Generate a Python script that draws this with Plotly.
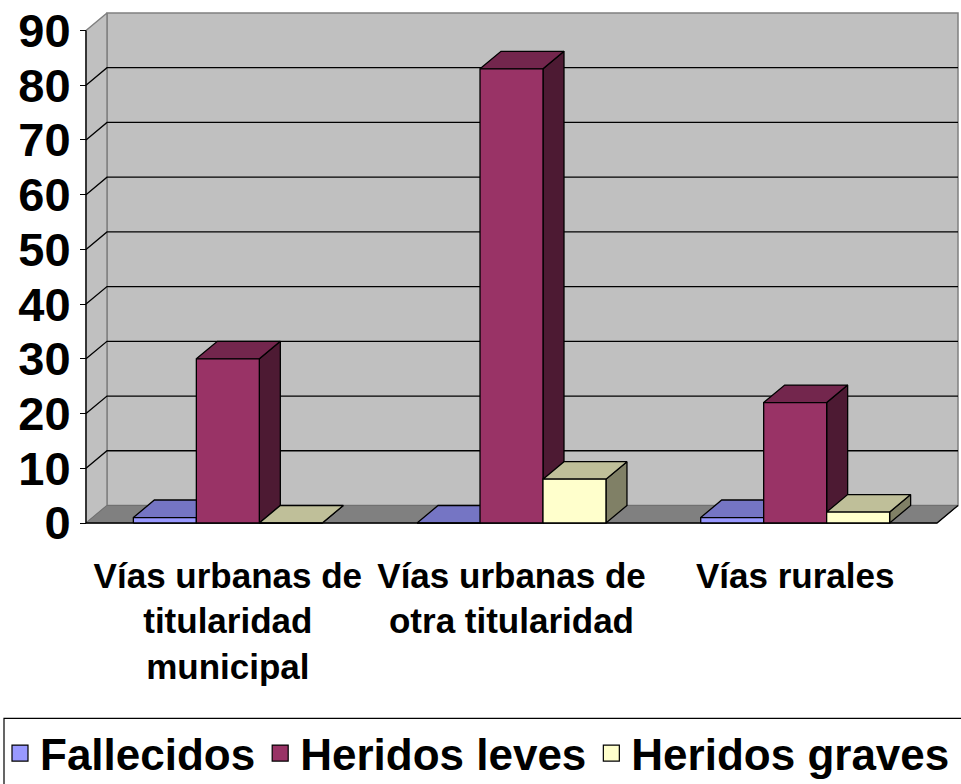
import plotly.graph_objects as go

# ---------------- data ----------------
categories = ["Vías urbanas de<br>titularidad<br>municipal",
              "Vías urbanas de<br>otra titularidad",
              "Vías rurales"]
series_names = ["Fallecidos", "Heridos leves", "Heridos graves"]
fallecidos = [1, 0, 1]
heridos_leves = [30, 83, 22]
heridos_graves = [0, 8, 2]
y_tick_values = [0, 10, 20, 30, 40, 50, 60, 70, 80, 90]

series_values = [fallecidos, heridos_leves, heridos_graves]
front_colors = ["#9999FF", "#993366", "#FFFFCC"]
top_colors = ["#7575C4", "#73264D", "#BFBF99"]
side_colors = ["#4D4D80", "#4D1A33", "#808066"]

# ---------------- geometry (pixels of the frame) ----------------
W, H = 961, 784
FRONT_LEFT, BACK_RIGHT = 86, 958
BASE_Y, TOP_Y = 522.7, 13
DX_PX, DY_PX = 21, 17.5
PAD = 3
Y_MAX = 90
BAR_W = 0.222

n = len(categories)
inner_w = BACK_RIGHT - FRONT_LEFT
inner_h = BASE_Y - TOP_Y
dx = DX_PX * n / (inner_w - DX_PX)
dy = DY_PX * Y_MAX / (inner_h - DY_PX)
ux = (n + dx) / inner_w
uy = (Y_MAX + dy) / inner_h
x_lo, x_front_hi = -0.5, n - 0.5
x_hi = x_front_hi + dx
xr = [x_lo - PAD * ux, x_hi + PAD * ux]
yr = [-PAD * uy, Y_MAX + dy + PAD * uy]
left_px, right_px = FRONT_LEFT - PAD, BACK_RIGHT + PAD
top_px, bot_px = TOP_Y - PAD, BASE_Y + PAD


def px_x(p):
    return (p - left_px) / (right_px - left_px)


def px_y(p):
    return (bot_px - p) / (bot_px - top_px)


fig = go.Figure()


def poly(xs, ys, fill, line_color, width=1.0):
    fig.add_trace(go.Scatter(x=xs, y=ys, mode="lines", fill="toself",
                             fillcolor=fill,
                             line=dict(color=line_color, width=width),
                             hoverinfo="skip", showlegend=False))


def lines(xs, ys, color, width=1.0):
    fig.add_trace(go.Scatter(x=xs, y=ys, mode="lines",
                             line=dict(color=color, width=width),
                             hoverinfo="skip", showlegend=False))


# walls and floor
poly([x_lo + dx, x_hi, x_hi, x_lo + dx, x_lo + dx],
     [dy, dy, Y_MAX + dy, Y_MAX + dy, dy], "#C0C0C0", "#808080", 1.5)
poly([x_lo, x_lo + dx, x_lo + dx, x_lo, x_lo],
     [0, dy, Y_MAX + dy, Y_MAX, 0], "#C0C0C0", "#808080", 1.5)
poly([x_lo, x_front_hi, x_hi, x_lo + dx, x_lo],
     [0, 0, dy, dy, 0], "#808080", "#707070", 1.0)

# gridlines on back wall and left wall
gx, gy = [], []
for v in y_tick_values[1:-1]:
    gx += [x_lo, x_lo + dx, x_hi, None]
    gy += [v, v + dy, v + dy, None]
lines(gx, gy, "#000000", 1.3)

# floor front + right edge, front value axis
lines([x_lo, x_front_hi, x_hi], [0, 0, dy], "#000000", 1.3)
lines([x_lo, x_lo], [0, Y_MAX], "#000000", 1.3)

# bars (painted series by series, left to right)
for s, vals in enumerate(series_values):
    fx, fy, tx, ty, sx, sy = [], [], [], [], [], []
    for j, v in enumerate(vals):
        x0 = j + (s - 1.5) * BAR_W
        x1 = x0 + BAR_W
        fx += [x0, x1, x1, x0, x0, None]
        fy += [0, 0, v, v, 0, None]
        tx += [x0, x1, x1 + dx, x0 + dx, x0, None]
        ty += [v, v, v + dy, v + dy, v, None]
        sx += [x1, x1 + dx, x1 + dx, x1, x1, None]
        sy += [0, dy, v + dy, v, 0, None]
    poly(sx, sy, side_colors[s], "#000000", 1.3)
    poly(tx, ty, top_colors[s], "#000000", 1.3)
    poly(fx, fy, front_colors[s], "#000000", 1.3)

# legend entries
for s, name in enumerate(series_names):
    fig.add_trace(go.Scatter(x=[None], y=[None], mode="markers", name=name,
                             marker=dict(symbol="square", size=18,
                                         color=front_colors[s],
                                         line=dict(color="#000000", width=1.2)),
                             showlegend=True))

# legend frame
fig.add_shape(type="rect", xref="paper", yref="paper",
              x0=px_x(4), x1=px_x(975), y0=px_y(800), y1=px_y(718),
              line=dict(color="#000000", width=1.2), fillcolor="rgba(0,0,0,0)")

label_font = dict(family="Liberation Sans, Arial", size=35,
                  color="#000000", weight="bold")

fig.update_layout(
    width=W, height=H,
    margin=dict(l=left_px, r=W - right_px, t=top_px, b=H - bot_px,
                autoexpand=False),
    paper_bgcolor="#FFFFFF", plot_bgcolor="rgba(0,0,0,0)",
    showlegend=True,
    legend=dict(orientation="h", x=px_x(0), xanchor="left",
                y=px_y(753), yanchor="middle",
                font=dict(family="Liberation Sans, Arial",
                          size=44, color="#000000", weight="bold"),
                itemwidth=30, bgcolor="rgba(0,0,0,0)", borderwidth=0),
    xaxis=dict(range=xr, tickvals=list(range(n)), ticktext=categories,
               tickangle=0, ticks="", showgrid=False, zeroline=False,
               showline=False, anchor="free", position=PAD / (bot_px - top_px),
               tickfont=label_font, ticklabelstandoff=29, fixedrange=True),
    xaxis2=dict(range=xr, overlaying="x", side="bottom",
                tickvals=[j - 0.5 for j in range(n + 1)],
                ticks="outside", ticklen=8, tickwidth=1.3, tickcolor="#000000",
                showticklabels=False, showgrid=False, zeroline=False,
                showline=False, anchor="free",
                position=PAD / (bot_px - top_px)),
    yaxis=dict(range=yr, tickvals=y_tick_values,
               ticks="outside", ticklen=6, tickwidth=1.3, tickcolor="#000000",
               showgrid=False, zeroline=False, showline=False,
               anchor="free", position=PAD / (right_px - left_px),
               tickfont=dict(family="Liberation Sans, Arial", size=47,
                             color="#000000", weight="bold"),
               fixedrange=True),
)

fig.write_html(
    "out.html",
    config={"displayModeBar": False},
    post_script="document.body.style.margin='0';"
                "document.body.style.padding='0';"
                "document.body.style.overflow='hidden';",
)
